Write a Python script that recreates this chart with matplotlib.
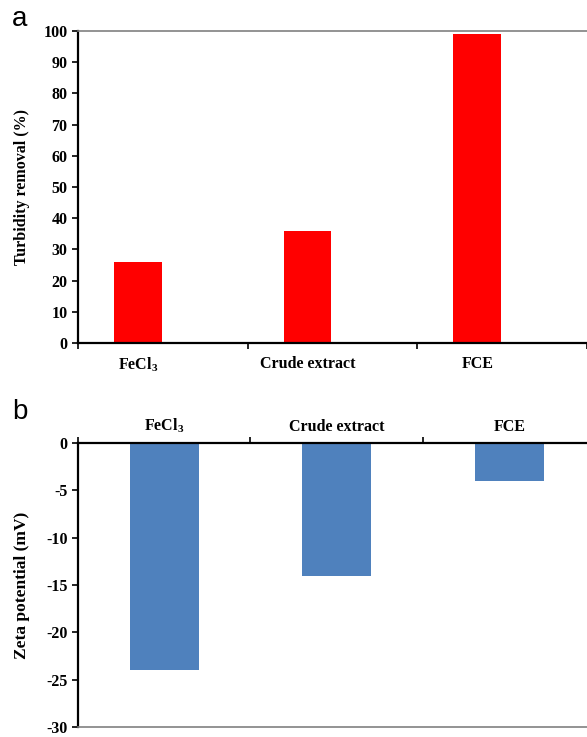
import matplotlib
matplotlib.use('Agg')
import matplotlib.pyplot as plt

plt.rcParams['font.family'] = ['Liberation Serif', 'DejaVu Serif']
plt.rcParams['font.weight'] = 'bold'
plt.rcParams['axes.unicode_minus'] = False
plt.rcParams['mathtext.fontset'] = 'custom'
plt.rcParams['mathtext.rm'] = 'Liberation Serif:bold'
plt.rcParams['mathtext.it'] = 'Liberation Serif:bold'
plt.rcParams['mathtext.bf'] = 'Liberation Serif:bold'

# data
categories = ['FeCl$_3$', 'Crude extract', 'FCE']
turbidity = [26, 36, 99]
zeta = [-24, -14, -4]

red = '#FF0000'
blue = '#4F81BD'

fig = plt.figure(figsize=(5.87, 7.37), dpi=100)

# ---- panel a ----
ax1 = fig.add_axes([78 / 587, (737 - 343) / 737, 509 / 587, 312 / 737])
pos_a = [i + 0.353 for i in range(len(categories))]
ax1.bar(pos_a, turbidity, width=0.28, color=red, zorder=2)
ax1.set_xlim(0, 3)
ax1.set_ylim(0, 100)
ax1.set_yticks(range(0, 101, 10))
ax1.set_xticks([0, 1, 2, 3])
ax1.set_xticklabels([])
ax1.set_xticks(pos_a, minor=True)
ax1.set_xticklabels(categories, minor=True, fontsize=11.5, fontweight='bold')
ax1.tick_params(axis='x', which='minor', length=0, pad=9)
ax1.tick_params(axis='x', which='major', direction='out', length=4, width=1.2)
ax1.tick_params(axis='y', direction='out', length=4, width=1.2, labelsize=11.5)
ax1.spines['right'].set_visible(False)
ax1.spines['top'].set_color('#808080')
ax1.spines['top'].set_linewidth(1.2)
ax1.spines['left'].set_linewidth(1.6)
ax1.spines['bottom'].set_linewidth(1.6)
ax1.set_ylabel('Turbidity removal (%)', fontsize=11.5, fontweight='bold')
ax1.yaxis.set_label_coords(-(78 - 30) / 509, 0.5)

# ---- panel b ----
ax2 = fig.add_axes([78 / 587, (737 - 727) / 737, 509 / 587, (727 - 443) / 737])
pos_b = [i + 0.5 for i in range(len(categories))]
ax2.bar(pos_b, zeta, width=0.4, color=blue, zorder=2)
ax2.set_xlim(0, 509 / 172.5)
ax2.set_ylim(-30, 0)
ax2.set_yticks(range(-30, 1, 5))
ax2.xaxis.tick_top()
ax2.set_xticks([0, 1, 2])
ax2.set_xticklabels([])
ax2.set_xticks(pos_b, minor=True)
ax2.set_xticklabels(categories, minor=True, fontsize=11.5, fontweight='bold')
ax2.tick_params(axis='x', which='minor', length=0, pad=6, top=True, bottom=False,
                labeltop=True, labelbottom=False)
ax2.tick_params(axis='x', which='major', direction='out', length=4, width=1.2,
                top=True, bottom=False)
ax2.tick_params(axis='y', direction='out', length=4, width=1.2, labelsize=11.5)
ax2.spines['right'].set_visible(False)
ax2.spines['bottom'].set_color('#808080')
ax2.spines['bottom'].set_linewidth(1.2)
ax2.spines['left'].set_linewidth(1.6)
ax2.spines['top'].set_linewidth(1.6)
ax2.set_ylabel('Zeta potential (mV)', fontsize=12.5, fontweight='bold')
ax2.yaxis.set_label_coords(-(78 - 30) / 509, 0.5)

# panel letters
fig.text(12 / 587, 1 - 26 / 737, 'a', fontsize=20, fontweight='normal',
         family=['Liberation Sans', 'DejaVu Sans'])
fig.text(12 / 587, 1 - 419 / 737, 'b', fontsize=20, fontweight='normal',
         family=['Liberation Sans', 'DejaVu Sans'])

fig.savefig('out.png', dpi=100)
